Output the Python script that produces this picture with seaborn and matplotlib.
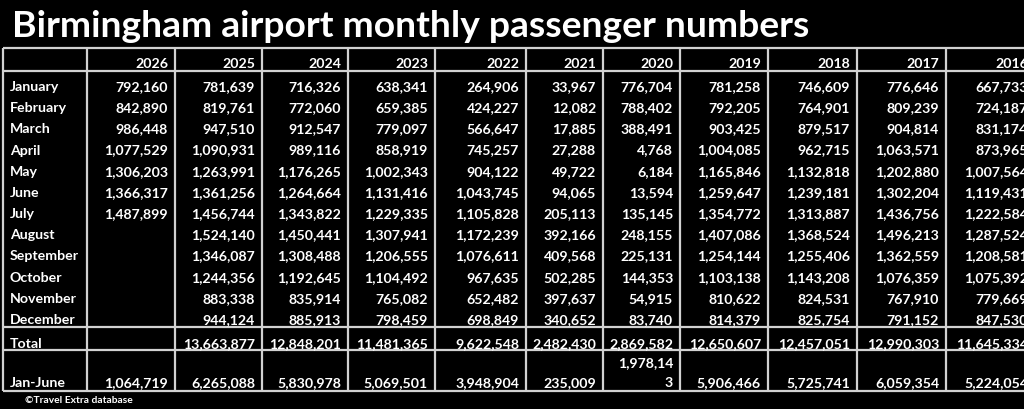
import matplotlib
matplotlib.use("Agg")
import matplotlib.pyplot as plt
import seaborn as sns

sns.set_theme(style="white")
plt.rcParams['font.family'] = ['Lato', 'DejaVu Sans']

# ---------------- data ----------------
title = "Birmingham airport monthly passenger numbers"
source = "\u00a9Travel Extra database"
months = ["January", "February", "March", "April", "May", "June", "July",
          "August", "September", "October", "November", "December"]
years = [2026, 2025, 2024, 2023, 2022, 2021, 2020, 2019, 2018, 2017, 2016]

p2026 = [792160, 842890, 986448, 1077529, 1306203, 1366317, 1487899,
         None, None, None, None, None]
p2025 = [781639, 819761, 947510, 1090931, 1263991, 1361256, 1456744,
         1524140, 1346087, 1244356, 883338, 944124]
p2024 = [716326, 772060, 912547, 989116, 1176265, 1264664, 1343822,
         1450441, 1308488, 1192645, 835914, 885913]
p2023 = [638341, 659385, 779097, 858919, 1002343, 1131416, 1229335,
         1307941, 1206555, 1104492, 765082, 798459]
p2022 = [264906, 424227, 566647, 745257, 904122, 1043745, 1105828,
         1172239, 1076611, 967635, 652482, 698849]
p2021 = [33967, 12082, 17885, 27288, 49722, 94065, 205113,
         392166, 409568, 502285, 397637, 340652]
p2020 = [776704, 788402, 388491, 4768, 6184, 13594, 135145,
         248155, 225131, 144353, 54915, 83740]
p2019 = [781258, 792205, 903425, 1004085, 1165846, 1259647, 1354772,
         1407086, 1254144, 1103138, 810622, 814379]
p2018 = [746609, 764901, 879517, 962715, 1132818, 1239181, 1313887,
         1368524, 1255406, 1143208, 824531, 825754]
p2017 = [776646, 809239, 904814, 1063571, 1202880, 1302204, 1436756,
         1496213, 1362559, 1076359, 767910, 791152]
p2016 = [667733, 724187, 831174, 873965, 1007564, 1119431, 1222584,
         1287524, 1208581, 1075392, 779669, 847530]

totals = [None, 13663877, 12848201, 11481365, 9622548, 2482430, 2869582,
          12650607, 12457051, 12990303, 11645334]
jan_june = [1064719, 6265088, 5830978, 5069501, 3948904, 235009, 1978143,
            5906466, 5725741, 6059354, 5224054]

monthly = [p2026, p2025, p2024, p2023, p2022, p2021, p2020,
           p2019, p2018, p2017, p2016]

# years whose Jan-June cell wraps in the source spreadsheet (chars on line 1)
wrapped = {2020: 8}

# ---------------- layout (pixel coordinates) ----------------
W, H = 1024, 410
col_edges = [3, 87, 175, 262, 348, 435, 526, 603, 680, 768, 857, 946, 1035]
h_lines = [48.5, 72, 327.5, 350.5, 392]
header_base = 68.5
row0_base = 91
row_pitch = 21.18
total_base = 348
jj_base = 387
wrap_line = 19.5
pad = 7
fs = 10.2
fg = "white"
line_col = "#d2d2d2"

fig = plt.figure(figsize=(W / 100, H / 100), dpi=100, facecolor="black")
ax = fig.add_axes([0, 0, 1, 1])
ax.set_facecolor("black")
ax.set_xlim(0, W)
ax.set_ylim(H, 0)
ax.axis("off")


def fmt(v):
    return "" if v is None else f"{v:,}"


# grid lines
for y in h_lines:
    ax.plot([col_edges[0], W + 20], [y, y], color=line_col, lw=1.6,
            solid_capstyle="butt", clip_on=False)
for x in col_edges:
    ax.plot([x, x], [h_lines[0], h_lines[-1]], color=line_col, lw=1.6,
            solid_capstyle="butt", clip_on=False)

kw = dict(color=fg, fontsize=fs, fontweight="bold", va="baseline")

# left label column
for i, m in enumerate(months):
    ax.text(col_edges[0] + pad, row0_base + i * row_pitch, m, ha="left", **kw)
ax.text(col_edges[0] + pad, total_base, "Total", ha="left", **kw)
ax.text(col_edges[0] + pad, jj_base, "Jan-June", ha="left", **kw)

# year columns
for j, yr in enumerate(years):
    xr = col_edges[j + 2] - pad
    ax.text(xr, header_base, str(yr), ha="right", **kw)
    for i, v in enumerate(monthly[j]):
        ax.text(xr, row0_base + i * row_pitch, fmt(v), ha="right", **kw)
    ax.text(xr, total_base, fmt(totals[j]), ha="right", **kw)
    # Jan-June (tall cell, bottom aligned, may wrap)
    s = fmt(jan_june[j])
    n = wrapped.get(yr)
    parts = [s[:n], s[n:]] if n else [s]
    for k, part in enumerate(reversed(parts)):
        ax.text(xr, jj_base - k * wrap_line, part, ha="right", **kw)

# title and source
ax.text(12, 37, title, color=fg, fontsize=26.8, fontweight="bold",
        ha="left", va="baseline")
ax.text(25, 403, source, color=fg, fontsize=7.4, fontweight="bold",
        ha="left", va="baseline")

fig.savefig("out.png", dpi=100, facecolor="black")
